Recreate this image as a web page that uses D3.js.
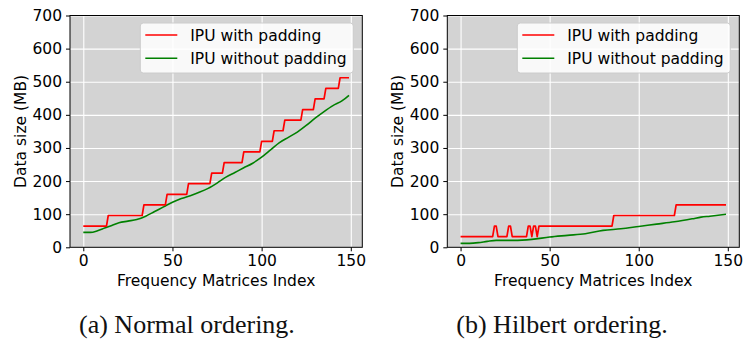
<!DOCTYPE html>
<html>
<head>
<meta charset="utf-8">
<script src="https://cdn.jsdelivr.net/npm/d3@7.9.0/dist/d3.min.js"></script>
<style>
  body { margin: 0; background: #fff; }
  svg { display: block; }
  .tick text { font-family: "DejaVu Sans", sans-serif; font-size: 15.5px; fill: #000; }
  .label { font-family: "DejaVu Sans", sans-serif; font-size: 15.5px; fill: #000; }
  .caption { font-family: "Liberation Serif", serif; font-size: 26px; fill: #111; }
</style>
</head>
<body>
<svg id="chart" width="743" height="339"></svg>
<script>
const xTicks = [0, 50, 100, 150];
const yTicks = [0, 100, 200, 300, 400, 500, 600, 700];
const seriesNames = ['IPU with padding', 'IPU without padding'];
const captions = ['(a) Normal ordering.', '(b) Hilbert ordering.'];

// (a) normal ordering - red is a staircase, listed by its corners
const redNormalX = [0, 13, 14, 33, 34, 46, 47, 58, 59, 71, 72, 78, 79, 89, 90, 99, 100, 106, 107, 112, 113, 122, 123, 129, 130, 135, 136, 143, 144, 149];
const redNormalY = [64, 64, 96, 96, 128, 128, 160, 160, 192, 192, 224, 224, 256, 256, 288, 288, 320, 320, 352, 352, 384, 384, 416, 416, 448, 448, 480, 480, 512, 512];
const greenNormalX = [0, 4, 8, 12, 16, 20, 25, 30, 35, 40, 45, 50, 55, 60, 65, 70, 75, 80, 85, 90, 95, 100, 105, 110, 115, 120, 125, 130, 135, 140, 145, 149];
const greenNormalY = [45, 45, 50, 58, 66, 74, 79, 84, 94, 108, 122, 136, 147, 156, 166, 178, 194, 212, 226, 240, 254, 272, 294, 316, 332, 348, 368, 390, 410, 428, 442, 459];

// (b) hilbert ordering
const redHilbertX = [0, 18, 19, 20, 21, 26, 27, 28, 29, 37, 38, 39, 40, 41, 42, 43, 44, 85, 86, 120, 121, 149];
const redHilbertY = [32, 32, 64, 64, 32, 32, 64, 64, 32, 32, 64, 64, 32, 64, 64, 32, 64, 64, 96, 96, 128, 128];
const greenHilbertX = [0, 5, 10, 15, 20, 30, 40, 50, 60, 70, 80, 90, 100, 110, 120, 130, 135, 140, 149];
const greenHilbertY = [12, 12, 14, 18, 21, 21, 24, 31, 36, 41, 51, 56, 63, 70, 77, 86, 91, 94, 100];

const svg = d3.select('#chart');
const plotTop = 15.5, plotBottom = 247.3;

function drawPanel(left, width, red, green, caption) {
  const right = left + width;
  const x = d3.scaleLinear().domain([-7.45, 156.45]).range([left, right]);
  const y = d3.scaleLinear().domain([0, 700]).range([plotBottom, plotTop]);

  const g = svg.append('g');

  g.append('rect')
    .attr('x', left).attr('y', plotTop)
    .attr('width', width).attr('height', plotBottom - plotTop)
    .attr('fill', '#d3d3d3');

  // grid
  g.append('g')
    .attr('transform', `translate(0,${plotBottom})`)
    .call(d3.axisBottom(x).tickValues(xTicks).tickSize(-(plotBottom - plotTop)).tickFormat(''))
    .call(s => s.select('.domain').remove())
    .call(s => s.selectAll('line').attr('stroke', '#fff').attr('stroke-width', 1.1));
  g.append('g')
    .attr('transform', `translate(${left},0)`)
    .call(d3.axisLeft(y).tickValues(yTicks).tickSize(-width).tickFormat(''))
    .call(s => s.select('.domain').remove())
    .call(s => s.selectAll('line').attr('stroke', '#fff').attr('stroke-width', 1.1));

  const line = d3.line().x(d => x(d[0])).y(d => y(d[1]));
  const smooth = d3.line().x(d => x(d[0])).y(d => y(d[1])).curve(d3.curveMonotoneX);

  g.append('path')
    .datum(d3.zip(green[0], green[1]))
    .attr('d', smooth)
    .attr('fill', 'none').attr('stroke', '#008000').attr('stroke-width', 1.6);
  g.append('path')
    .datum(d3.zip(red[0], red[1]))
    .attr('d', line)
    .attr('fill', 'none').attr('stroke', '#ff0000').attr('stroke-width', 1.7)
    .attr('stroke-linejoin', 'round');

  // spines
  g.append('rect')
    .attr('x', left).attr('y', plotTop)
    .attr('width', width).attr('height', plotBottom - plotTop)
    .attr('fill', 'none').attr('stroke', '#000').attr('stroke-width', 1);

  // axes
  g.append('g')
    .attr('transform', `translate(0,${plotBottom})`)
    .call(d3.axisBottom(x).tickValues(xTicks).tickSize(4).tickPadding(4))
    .call(s => s.select('.domain').remove());
  g.append('g')
    .attr('transform', `translate(${left},0)`)
    .call(d3.axisLeft(y).tickValues(yTicks).tickSize(4).tickPadding(4))
    .call(s => s.select('.domain').remove());

  g.append('text')
    .attr('class', 'label')
    .attr('x', (left + right) / 2).attr('y', 286)
    .attr('text-anchor', 'middle')
    .text('Frequency Matrices Index');
  g.append('text')
    .attr('class', 'label')
    .attr('transform', `translate(${left - 44},${(plotTop + plotBottom) / 2}) rotate(-90)`)
    .attr('text-anchor', 'middle')
    .text('Data size (MB)');

  // legend
  const lx = right - 222, ly = 23;
  g.append('rect')
    .attr('x', lx).attr('y', ly).attr('width', 213).attr('height', 50)
    .attr('rx', 3)
    .attr('fill', '#fff').attr('fill-opacity', 0.85)
    .attr('stroke', '#ccc');
  [['#ff0000', seriesNames[0]], ['#008000', seriesNames[1]]].forEach(([c, name], i) => {
    const yy = ly + 12 + i * 23.3;
    g.append('line')
      .attr('x1', lx + 5).attr('x2', lx + 37)
      .attr('y1', yy).attr('y2', yy)
      .attr('stroke', c).attr('stroke-width', 1.6);
    g.append('text')
      .attr('class', 'label')
      .attr('x', lx + 50).attr('y', yy + 5.5)
      .text(name);
  });

  svg.append('text')
    .attr('class', 'caption')
    .attr('x', left + 9).attr('y', 333)
    .text(caption);
}

drawPanel(70, 292.3, [redNormalX, redNormalY], [greenNormalX, greenNormalY], captions[0]);
drawPanel(447.3, 292, [redHilbertX, redHilbertY], [greenHilbertX, greenHilbertY], captions[1]);
</script>
</body>
</html>
